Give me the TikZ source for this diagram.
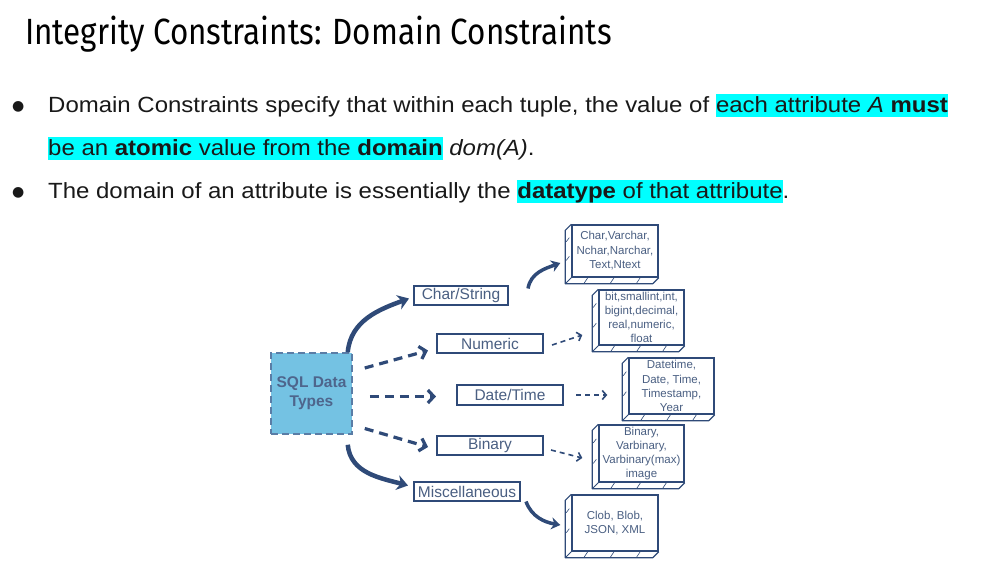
\documentclass[tikz,border=0pt]{standalone}
\usepackage{fontspec}
\setmainfont{Liberation Sans}
\newfontfamily\titlefont[FakeStretch=0.86]{Fira Sans}
\newfontfamily\bodyfont[FakeStretch=1.09]{Liberation Sans}
\newfontfamily\symfont{DejaVu Sans}
\usetikzlibrary{arrows.meta,calc}

\definecolor{navy}{HTML}{2F4A78}
\definecolor{boxtxt}{HTML}{4A5F82}
\definecolor{sqlfill}{HTML}{74C2E3}
\definecolor{sqldash}{HTML}{5A7DA6}
\definecolor{hlcyan}{HTML}{00FFFF}

\newcommand{\hlt}[1]{{\setlength{\fboxsep}{0pt}\colorbox{hlcyan}{\rule[-5pt]{0pt}{23pt}#1}}}

\begin{document}
\begin{tikzpicture}[x=1pt,y=-1pt]
    \useasboundingbox[fill=white] (0,0) rectangle (988,582);

    % title and bullets
    \node[anchor=base west,inner sep=0,font=\titlefont\fontsize{36.5}{40}\selectfont] (title) at (25,44) {Integrity Constraints: Domain Constraints};
    \begin{scope}[every node/.style={anchor=base west,inner sep=0,font=\bodyfont\fontsize{22}{26}\selectfont,text=black!90}]
        \node[font=\symfont\fontsize{14}{18}\selectfont] (b1) at (12,110) {●};
        \node (l1) at (48,112) {Domain Constraints specify that within each tuple, the value of \hlt{each attribute \textit{A} \textbf{must}}};
        \node (l2) at (48,155) {\hlt{be an \textbf{atomic} value from the \textbf{domain}} \textit{dom(A)}.};
        \node[font=\symfont\fontsize{14}{18}\selectfont] (b2) at (12,196) {●};
        \node (l3) at (48,198) {The domain of an attribute is essentially the \hlt{\textbf{datatype} of that attribute}.};
    \end{scope}

    % data type nodes
    \node[fill=sqlfill,draw=sqldash,dash pattern=on 7pt off 4pt,line width=1.5pt,minimum width=81pt,minimum height=81pt,
          align=center,font=\bfseries\fontsize{15.5}{19}\selectfont,text=navy!85] (sql) at (311.5,393.5) {SQL Data\\Types};
    \begin{scope}[every node/.style={draw=navy,line width=2pt,minimum height=19pt,inner sep=0,
                  font=\fontsize{15.5}{18}\selectfont,text=boxtxt}]
        \node[minimum width=94pt] (charstr) at (461,295.5) {Char/String};
        \node[minimum width=106pt] (numeric) at (490,343.5) {Numeric};
        \node[minimum width=106pt,minimum height=20pt] (datetime) at (510,395) {Date/Time};
        \node[minimum width=106pt] (binary) at (490,445) {Binary};
        \node[minimum width=106pt] (misc) at (467,491.5) {Miscellaneous};
    \end{scope}

    % value slabs
    \begin{scope}[every node/.style={draw=navy,line width=1.4pt,inner sep=0,align=center,
                  font=\fontsize{11.5}{14.5}\selectfont,text=boxtxt}]
        \node[minimum width=86pt,minimum height=52pt] (cv) at (615,251) {Char,Varchar,\\Nchar,Narchar,\\Text,Ntext};
        \node[minimum width=85pt,minimum height=55pt,font=\fontsize{11.5}{14}\selectfont] (nv) at (641.5,317.5) {bit,smallint,int,\\bigint,decimal,\\real,numeric,\\float};
        \node[minimum width=85pt,minimum height=56pt,font=\fontsize{11.5}{14.2}\selectfont] (dv) at (671.5,386) {Datetime,\\Date, Time,\\Timestamp,\\Year};
        \node[minimum width=85pt,minimum height=57pt,font=\fontsize{11.5}{14}\selectfont] (bv) at (641.5,453.5) {Binary,\\Varbinary,\\Varbinary(max)\\image};
        \node[minimum width=86pt,minimum height=56pt,font=\fontsize{11.5}{13.5}\selectfont] (mv) at (615,523) {Clob, Blob,\\JSON, XML};
    \end{scope}
    \foreach \n in {cv,nv,dv,bv,mv}{
        \draw[navy,line width=1.2pt,line join=round] (\n.north west) -- ++(-6,6) |- ([shift={(-6,6)}]\n.south east) -- (\n.south east);
        \draw[navy,line width=1pt] (\n.south west) -- ++(-6,6);
        \foreach \f in {0.2,0.5,0.8}
            \draw[navy,line width=0.6pt] ($(\n.south west)!\f!(\n.south east)$) ++(-1,0) -- ++(-4,6);
        \foreach \f in {0.25,0.6}
            \draw[navy,line width=0.6pt] ($(\n.north west)!\f!(\n.south west)$) ++(-2,0) -- ++(-3,4);
    }

    % connectors
    \begin{scope}[every edge/.style={draw=navy}]
        \path ([xshift=-5pt]sql.north east) edge[line width=4.5pt,-{Stealth[length=11pt,width=15pt]},out=85,in=200] ([xshift=-4pt,yshift=-3pt]charstr.west);
        \path ([xshift=-5pt,yshift=-10pt]sql.south east) edge[line width=4.5pt,-{Stealth[length=11pt,width=15pt]},out=-85,in=165] ([xshift=-5pt,yshift=6pt]misc.west);
        \path ([xshift=12pt,yshift=25.5pt]sql.east) edge[line width=3.2pt,dash pattern=on 9pt off 6pt,-{Straight Barb[length=6pt,width=13pt]}] ([xshift=-8pt,yshift=-7pt]numeric.west);
        \path ([xshift=17pt,yshift=-3pt]sql.east) edge[line width=3.2pt,dash pattern=on 9pt off 6pt,-{Straight Barb[length=6pt,width=13pt]}] ([xshift=-20pt,yshift=-1.5pt]datetime.west);
        \path ([xshift=12pt,yshift=-35pt]sql.east) edge[line width=3.2pt,dash pattern=on 9pt off 6pt,-{Straight Barb[length=6pt,width=13pt]}] ([xshift=-8pt,yshift=-2pt]binary.west);
        \path ([xshift=19pt,yshift=7pt]charstr.east) edge[line width=3.5pt,-{Stealth[length=9pt,width=12pt]},out=80,in=200] ([xshift=-11pt,yshift=-12pt]cv.west);
        \path ([xshift=5pt,yshift=-10pt]misc.east) edge[line width=3.5pt,-{Stealth[length=9pt,width=12pt]},out=-70,in=170] ([xshift=-11pt,yshift=-2pt]mv.west);
        \path ([xshift=8pt,yshift=-1.5pt]numeric.east) edge[line width=1.6pt,dash pattern=on 5pt off 4pt,-{Straight Barb[length=4pt,width=9pt]}] ([xshift=-16pt,yshift=-17.5pt]nv.west);
        \path ([xshift=12pt]datetime.east) edge[line width=1.6pt,dash pattern=on 5pt off 4pt,-{Straight Barb[length=4pt,width=9pt]}] ([xshift=-21pt,yshift=-9pt]dv.west);
        \path ([xshift=7pt,yshift=-5pt]binary.east) edge[line width=1.6pt,dash pattern=on 5pt off 4pt,-{Straight Barb[length=4pt,width=9pt]}] ([xshift=-16pt,yshift=-4.5pt]bv.west);
    \end{scope}
\end{tikzpicture}
\end{document}
